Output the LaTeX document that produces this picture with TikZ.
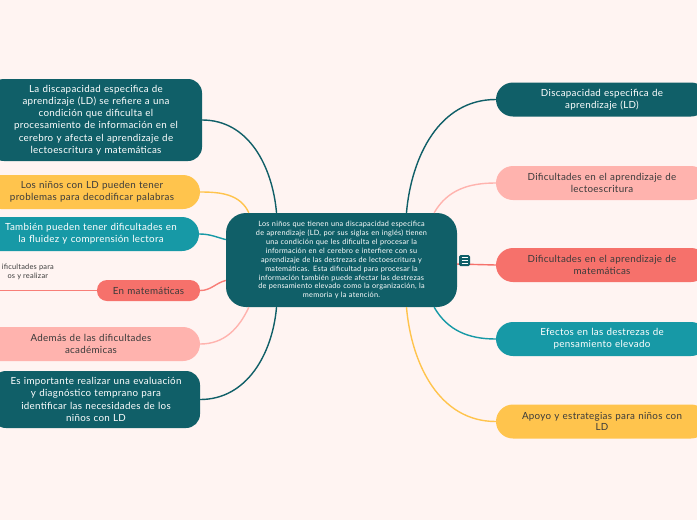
\documentclass[tikz,border=0pt]{standalone}
\usepackage{fontspec}
\setmainfont{Lato}[LetterSpace=3.0]
\definecolor{bgpink}{HTML}{FFF4F2}
\definecolor{deepteal}{HTML}{105F68}
\definecolor{brightteal}{HTML}{1799A6}
\definecolor{sunyellow}{HTML}{FFC44D}
\definecolor{coral}{HTML}{F6716B}
\definecolor{blush}{HTML}{FFB3AE}
\definecolor{inkgray}{HTML}{3B3B3B}

\begin{document}
\begin{tikzpicture}[x=1pt,y=-1pt,
  topic/.style={rounded corners=17pt, minimum height=34pt, inner xsep=0pt, inner ysep=2pt,
    align=center, font=\fontsize{9.8}{11.7}\selectfont},
  darktopic/.style={topic, fill=deepteal, text=white},
  tealtopic/.style={topic, fill=brightteal, text=white},
  yellowtopic/.style={topic, fill=sunyellow, text=inkgray},
  coraltopic/.style={topic, fill=coral, text=inkgray},
  blushtopic/.style={topic, fill=blush, text=inkgray},
  link/.style={draw=#1, line width=1.4pt}]
  \clip (0,0) rectangle (697,520);
  \fill[bgpink] (0,0) rectangle (697,520);

  % central topic
  \node[fill=deepteal, text=white, rounded corners=20pt, text width=231pt, minimum height=94pt,
    inner xsep=0pt, align=center, font=\fontsize{7.3}{8.97}\selectfont] (main) at (341.5,260)
    {Los niños que tienen una discapacidad especifica\\
     de aprendizaje (LD, por sus siglas en inglés) tienen\\
     una condición que les dificulta el procesar la\\
     información en el cerebro e interfiere con su\\
     aprendizaje de las destrezas de lectoescritura y\\
     matemáticas. Esta dificultad para procesar la\\
     información también puede afectar las destrezas\\
     de pensamiento elevado como la organización, la\\
     memoria y la atención.};

  % left side
  \node[darktopic, rounded corners=14pt, text width=212pt, minimum height=82pt,
    font=\fontsize{9.8}{12.2}\selectfont] (ldinfo) at (96,120)
    {La discapacidad especifica de\\aprendizaje (LD) se refiere a una\\condición que dificulta el\\
     procesamiento de información en el\\cerebro y afecta el aprendizaje de\\lectoescritura y matemáticas};
  \node[yellowtopic, text width=216pt] (decode) at (92,192)
    {Los niños con LD pueden tener\\problemas para decodificar palabras};
  \node[tealtopic, text width=216pt] (fluency) at (91,234)
    {También pueden tener dificultades en\\la fluidez y comprensión lectora};
  \node[coraltopic, rounded corners=10pt, text width=103pt, minimum height=21pt] (math) at (148.5,290.5)
    {En matemáticas};
  \node[anchor=east, align=center, inner sep=0pt, text=inkgray,
    font=\fontsize{7.4}{9}\selectfont] (mathsub) at (54,271.5) {ificultades para\\os y realizar};
  \coordinate (offleft) at (-5,290.5);
  \node[blushtopic, text width=218pt] (academic) at (91,344)
    {Además de las dificultades\\académicas};
  \node[darktopic, rounded corners=14pt, text width=208pt, minimum height=57pt,
    font=\fontsize{9.8}{12.2}\selectfont] (diagnosis) at (96,399.5)
    {Es importante realizar una evaluación\\y diagnóstico temprano para\\
     identificar las necesidades de los\\niños con LD};

  % right side
  \node[darktopic, text width=212pt] (definition) at (602,99.5)
    {Discapacidad especifica de\\aprendizaje (LD)};
  \node[blushtopic, text width=212pt] (reading) at (602,183)
    {Dificultades en el aprendizaje de\\lectoescritura};
  \node[coraltopic, text width=212pt] (mathskills) at (602,265)
    {Dificultades en el aprendizaje de\\matemáticas};
  \node[tealtopic, text width=212pt] (thinking) at (602,339)
    {Efectos en las destrezas de\\pensamiento elevado};
  \node[yellowtopic, text width=212pt] (support) at (602,421.5)
    {Apoyo y estrategias para niños con\\LD};

  % connectors
  \draw[link=deepteal] (main.144) to[out=95,in=0] (ldinfo.east);
  \draw[link=sunyellow] (main.153) to[out=115,in=0] (decode.east);
  \draw[link=brightteal] (main.170) to[out=165,in=0] (fluency.east);
  \draw[link=coral!80!blush] (main.190) to[out=195,in=0] (math.east);
  \draw[link=coral!80!blush] (math.west) -- (offleft);
  \draw[link=blush] (main.207) to[out=245,in=0] (academic.east);
  \draw[link=deepteal] (main.216) to[out=265,in=0] (diagnosis.east);
  \draw[link=deepteal] (main.36) to[out=85,in=180] (definition.west);
  \draw[link=blush] (main.27) to[out=60,in=180] (reading.west);
  \draw[link=coral] (main.-2.5) -- (mathskills.west);
  \draw[link=brightteal] (main.-27) to[out=-60,in=180] (thinking.west);
  \draw[link=sunyellow] (main.-36) to[out=-85,in=180] (support.west);

  % notes icon
  \node[fill=deepteal, rounded corners=1.5pt, minimum size=11pt, inner sep=0pt] (menu) at (464.5,260.5) {};
  \foreach \k in {257.7,260.5,263.3}
    \draw[white, line width=0.9pt] (461.5,\k) -- (467.5,\k);
\end{tikzpicture}
\end{document}
